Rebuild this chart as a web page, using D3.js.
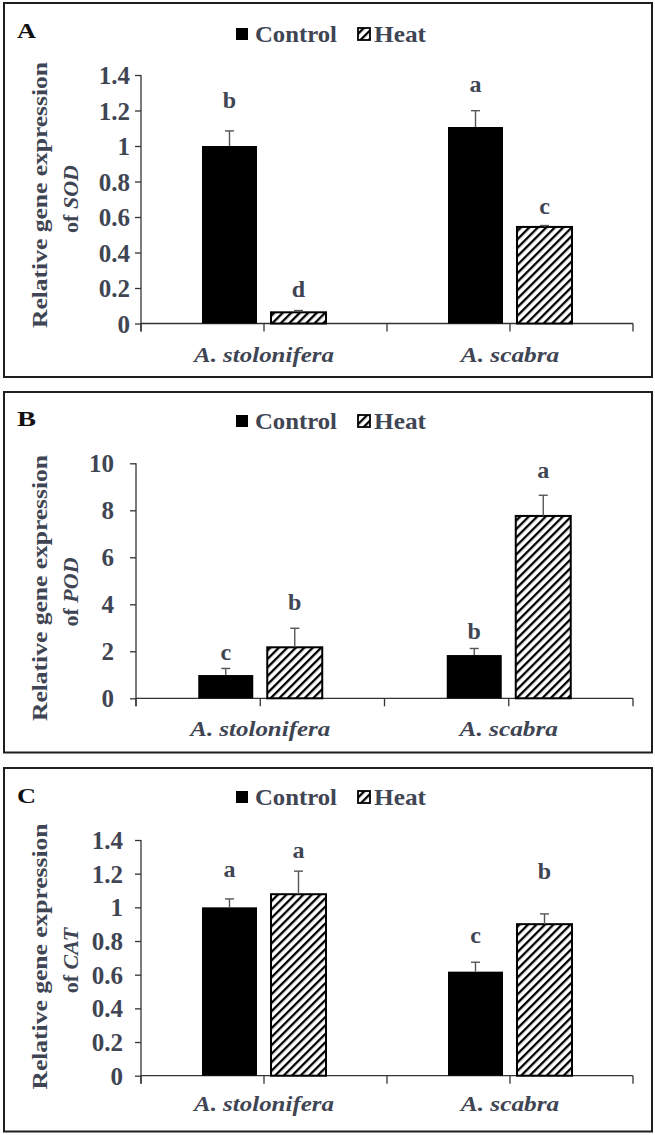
<!DOCTYPE html>
<html><head><meta charset="utf-8">
<script src="https://cdn.jsdelivr.net/npm/d3@7"></script>
<style>body{margin:0;background:#fff} svg{display:block}</style>
</head><body><svg id="chart" width="655" height="1135"></svg>
<script>
// ---------- data ----------
const categories = ["A. stolonifera", "A. scabra"];
const seriesNames = ["Control", "Heat"];
const panelLabels = ["A", "B", "C"];
const geneNames = ["SOD", "POD", "CAT"];

// SOD
const sodControl = [1.00, 1.107];
const sodControlErr = [0.085, 0.092];
const sodHeat = [0.063, 0.544];
const sodHeatErr = [0.010, 0.008];
const sodControlLetters = ["b", "a"];
const sodHeatLetters = ["d", "c"];
const sodControlLetterAt = [1.214, 1.304];
const sodHeatLetterAt = [0.149, 0.617];
const sodTicks = [0, 0.2, 0.4, 0.6, 0.8, 1, 1.2, 1.4];

// POD
const podControl = [0.99, 1.84];
const podControlErr = [0.28, 0.28];
const podHeat = [2.17, 7.76];
const podHeatErr = [0.81, 0.88];
const podControlLetters = ["c", "b"];
const podHeatLetters = ["b", "a"];
const podControlLetterAt = [1.63, 2.52];
const podHeatLetterAt = [3.75, 9.39];
const podTicks = [0, 2, 4, 6, 8, 10];

// CAT
const catControl = [1.00, 0.618];
const catControlErr = [0.05, 0.056];
const catHeat = [1.078, 0.90];
const catHeatErr = [0.137, 0.061];
const catControlLetters = ["a", "c"];
const catHeatLetters = ["a", "b"];
const catControlLetterAt = [1.182, 0.788];
const catHeatLetterAt = [1.295, 1.169];
const catTicks = [0, 0.2, 0.4, 0.6, 0.8, 1, 1.2, 1.4];

// ---------- layout ----------
const TXT = "#404553";
const SERIF = "'Liberation Serif','Times New Roman',serif";
const layouts = [
  {box:[4,3,652,377], ax:[141,633], yr:[323.5,75], tickRight:130, lab:37.5, legSq:28, legBase:41.5, titleCY:195, xlab:361.5},
  {box:[4,392,652,752.5], ax:[136,633], yr:[698.3,463.3], tickRight:114, lab:425.5, legSq:415, legBase:429.3, titleCY:588, xlab:736},
  {box:[4,768,652,1131.5], ax:[141,633], yr:[1075.7,840], tickRight:123, lab:803, legSq:791, legBase:805, titleCY:956.5, xlab:1111}
];

const panels = [
  {control:sodControl, controlErr:sodControlErr, heat:sodHeat, heatErr:sodHeatErr,
   cL:sodControlLetters, hL:sodHeatLetters, cLA:sodControlLetterAt, hLA:sodHeatLetterAt, ticks:sodTicks},
  {control:podControl, controlErr:podControlErr, heat:podHeat, heatErr:podHeatErr,
   cL:podControlLetters, hL:podHeatLetters, cLA:podControlLetterAt, hLA:podHeatLetterAt, ticks:podTicks},
  {control:catControl, controlErr:catControlErr, heat:catHeat, heatErr:catHeatErr,
   cL:catControlLetters, hL:catHeatLetters, cLA:catControlLetterAt, hLA:catHeatLetterAt, ticks:catTicks}
];

const svg = d3.select("#chart");
svg.append("rect").attr("width",655).attr("height",1135).attr("fill","#fff");

const defs = svg.append("defs");
const pat = defs.append("pattern").attr("id","hatch").attr("patternUnits","userSpaceOnUse")
  .attr("width",6).attr("height",6).attr("patternTransform","rotate(45)");
pat.append("rect").attr("width",6).attr("height",6).attr("fill","#fff");
pat.append("rect").attr("width",2.3).attr("height",6).attr("fill","#000");

const fmt = d => String(+(+d).toFixed(1));

panels.forEach((P, pi) => {
  const L = layouts[pi];
  const g = svg.append("g");
  // frame
  g.append("rect").attr("x",L.box[0]).attr("y",L.box[1])
    .attr("width",L.box[2]-L.box[0]).attr("height",L.box[3]-L.box[1])
    .attr("fill","none").attr("stroke","#1e1e1e").attr("stroke-width",2);

  const y = d3.scaleLinear().domain([0, d3.max(P.ticks)]).range(L.yr);
  const x = d3.scaleBand().domain(categories).range(L.ax);
  const xs = d3.scaleBand().domain(seriesNames).range([-62,62]).paddingInner(0.203);

  // y axis
  const yAxis = d3.axisLeft(y).tickValues(P.ticks).tickSize(6).tickPadding(L.ax[0]-6-L.tickRight).tickFormat(fmt);
  const ya = g.append("g").attr("transform",`translate(${L.ax[0]},0)`).call(yAxis);
  ya.attr("font-size",null).attr("font-family",null);
  ya.select(".domain").remove();
  ya.selectAll(".tick line").attr("stroke","#333").attr("stroke-width",1.3);
  ya.selectAll(".tick text").attr("fill",TXT)
    .style("font-family",SERIF).style("font-weight","bold").style("font-size","25px")
    .attr("dy","0.34em");
  g.append("line").attr("x1",L.ax[0]).attr("x2",L.ax[0])
    .attr("y1",L.yr[1]).attr("y2",L.yr[0]+8).attr("stroke","#333").attr("stroke-width",1.3);

  // x axis
  g.append("line").attr("x1",L.ax[0]).attr("x2",L.ax[1])
    .attr("y1",y(0)).attr("y2",y(0)).attr("stroke","#333").attr("stroke-width",1.3);
  const xt = categories.flatMap(c => [x(c), x(c)+x.bandwidth()/2]).concat([L.ax[1]]);
  g.selectAll(".xt").data(xt).join("line")
    .attr("x1",d=>d).attr("x2",d=>d).attr("y1",y(0)).attr("y2",y(0)+8)
    .attr("stroke","#333").attr("stroke-width",1.3);

  // bars
  const rows = [];
  categories.forEach((c,i) => {
    rows.push({cat:c, s:"Control", v:P.control[i], e:P.controlErr[i], l:P.cL[i], la:P.cLA[i]});
    rows.push({cat:c, s:"Heat", v:P.heat[i], e:P.heatErr[i], l:P.hL[i], la:P.hLA[i]});
  });
  const cx = d => x(d.cat) + x.bandwidth()/2 + xs(d.s);
  g.selectAll(".bar").data(rows).join("rect")
    .attr("x", d => cx(d)).attr("width", xs.bandwidth())
    .attr("y", d => y(d.v)).attr("height", d => y(0)-y(d.v))
    .attr("fill", d => d.s==="Control" ? "#000" : "url(#hatch)")
    .attr("stroke", "#000").attr("stroke-width", d => d.s==="Control" ? 0 : 2);

  // error bars
  const mid = d => cx(d) + xs.bandwidth()/2;
  g.selectAll(".eb").data(rows).join("line")
    .attr("x1",mid).attr("x2",mid).attr("y1",d=>y(d.v)).attr("y2",d=>y(d.v+d.e))
    .attr("stroke","#555").attr("stroke-width",1.4);
  g.selectAll(".ec").data(rows).join("line")
    .attr("x1",d=>mid(d)-4.5).attr("x2",d=>mid(d)+4.5).attr("y1",d=>y(d.v+d.e)).attr("y2",d=>y(d.v+d.e))
    .attr("stroke","#555").attr("stroke-width",1.4);

  // letters
  g.selectAll(".lt").data(rows).join("text")
    .attr("x",mid).attr("y",d=>y(d.la)).attr("text-anchor","middle")
    .attr("fill",TXT).attr("font-family",SERIF).attr("font-weight","bold").attr("font-size",24)
    .text(d=>d.l);

  // category labels
  const catW = [140, 98.5];
  g.selectAll(".cl").data(categories).join("text")
    .attr("x", c => x(c)+x.bandwidth()/2).attr("y", L.xlab).attr("text-anchor","middle")
    .attr("fill",TXT).attr("font-family",SERIF).attr("font-style","italic").attr("font-weight","bold")
    .attr("font-size",20).attr("textLength",(c,i)=>catW[i]).attr("lengthAdjust","spacingAndGlyphs")
    .text(c=>c);

  // legend
  const lg = g.append("g");
  lg.append("rect").attr("x",236).attr("y",L.legSq).attr("width",12).attr("height",12).attr("fill","#000");
  lg.append("text").attr("x",255).attr("y",L.legBase).attr("fill",TXT).attr("font-family",SERIF)
    .attr("font-weight","bold").attr("font-size",23).attr("textLength",82).attr("lengthAdjust","spacingAndGlyphs")
    .text(seriesNames[0]);
  lg.append("rect").attr("x",358).attr("y",L.legSq).attr("width",12).attr("height",12)
    .attr("fill","url(#hatch)").attr("stroke","#000").attr("stroke-width",1.8);
  lg.append("text").attr("x",374).attr("y",L.legBase).attr("fill",TXT).attr("font-family",SERIF)
    .attr("font-weight","bold").attr("font-size",23).attr("textLength",52).attr("lengthAdjust","spacingAndGlyphs")
    .text(seriesNames[1]);

  // y title
  g.append("text").attr("transform",`translate(47,${L.titleCY}) rotate(-90)`)
    .attr("text-anchor","middle").attr("fill",TXT).attr("font-family",SERIF)
    .attr("font-weight","bold").attr("font-size",22)
    .attr("textLength",266).attr("lengthAdjust","spacingAndGlyphs")
    .text("Relative gene expression");
  const t2 = g.append("text").attr("transform",`translate(78,${L.titleCY+4}) rotate(-90)`)
    .attr("text-anchor","middle").attr("fill",TXT).attr("font-family",SERIF)
    .attr("font-weight","bold").attr("font-size",22);
  t2.append("tspan").text("of ");
  t2.append("tspan").attr("font-style","italic").text(geneNames[pi]);

  // panel label
  g.append("text").attr("x",17).attr("y",L.lab).attr("fill","#111").attr("font-family",SERIF)
    .attr("font-weight","bold").attr("font-size",21).attr("textLength",19).attr("lengthAdjust","spacingAndGlyphs")
    .text(panelLabels[pi]);
});
</script></body></html>
